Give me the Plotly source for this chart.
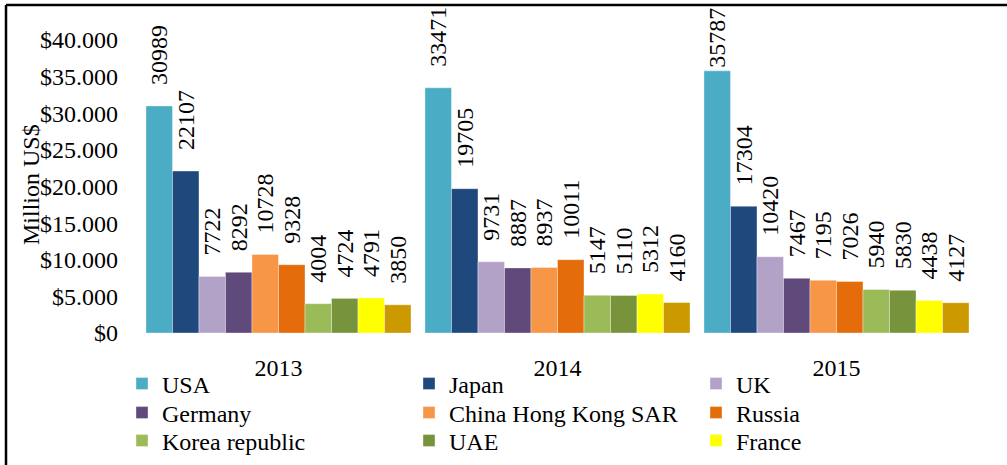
import plotly.graph_objects as go

years = ["2013", "2014", "2015"]
countries = ["USA", "Japan", "UK", "Germany", "China Hong Kong SAR", "Russia",
             "Korea republic", "UAE", "France", "Other"]
values = {
    "USA": [30989, 33471, 35787],
    "Japan": [22107, 19705, 17304],
    "UK": [7722, 9731, 10420],
    "Germany": [8292, 8887, 7467],
    "China Hong Kong SAR": [10728, 8937, 7195],
    "Russia": [9328, 10011, 7026],
    "Korea republic": [4004, 5147, 5940],
    "UAE": [4724, 5110, 5830],
    "France": [4791, 5312, 4438],
    "Other": [3850, 4160, 4127],
}
colors = ["#4BACC6", "#1F497D", "#B3A2C7", "#604A7B", "#F79646", "#E46C0A",
          "#9BBB59", "#77933C", "#FFFF00", "#CC9900"]
y_ticks = [0, 5000, 10000, 15000, 20000, 25000, 30000, 35000, 40000]
y_ticktext = ["$0", "$5.000", "$10.000", "$15.000", "$20.000", "$25.000",
              "$30.000", "$35.000", "$40.000"]
y_title = "Million US$"

FONT = "Liberation Serif"
W, H = 1007, 465
L, R, T, B = 139, 31, 40, 132
NB = "\u00a0"


def label(v):
    # gap between bar top and rotated label; tallest label is kept inside the chart box
    return (NB * 3 if v < 35000 else "") + str(v)


legend_col_x = [122, 409, 696]
legend_row_y = [384, 413, 441]

fig = go.Figure()
layout_legends = {}
for i, c in enumerate(countries):
    show = c != "Other"
    lid = "legend" if i == 0 else f"legend{i + 1}"
    fig.add_trace(go.Bar(
        x=years, y=values[c], name=c,
        marker=dict(color=colors[i], line=dict(color="rgba(255,255,255,0.6)", width=0.6)),
        text=[label(v) for v in values[c]],
        textposition="outside", textangle=-90,
        textfont=dict(family=FONT, size=24, color="black"),
        cliponaxis=False, constraintext="none",
        showlegend=show,
        legend=lid if show else "legend",
    ))
    if show:
        col, row = i % 3, i // 3
        layout_legends[lid] = dict(
            font=dict(family=FONT, size=24, color="black"),
            orientation="v", xref="container", yref="container",
            x=legend_col_x[col] / W, xanchor="left",
            y=1 - legend_row_y[row] / H, yanchor="middle",
            bgcolor="rgba(0,0,0,0)", itemwidth=30,
        )

pw, ph = W - L - R, H - T - B

fig.update_layout(
    width=W, height=H,
    margin=dict(l=L, r=R, t=T, b=B, autoexpand=False),
    paper_bgcolor="white", plot_bgcolor="white",
    barmode="group", bargap=0.05, bargroupgap=0,
    font=dict(family=FONT, size=24, color="black"),
    xaxis=dict(showgrid=False, showline=False, ticks="", ticklabelstandoff=18,
               automargin=False,
               tickfont=dict(family=FONT, size=24, color="black")),
    yaxis=dict(range=[0, 40000], tickvals=y_ticks, ticktext=y_ticktext,
               showgrid=False, zeroline=False, showline=False, ticks="",
               ticklabelstandoff=20, automargin=False,
               tickfont=dict(family=FONT, size=24, color="black")),
    annotations=[
        dict(text=y_title, textangle=-90, xref="paper", yref="paper",
             x=(31 - L) / pw, y=(H - B - 185) / ph, xanchor="center", yanchor="middle",
             showarrow=False, font=dict(family=FONT, size=24, color="black")),
    ],
    shapes=[
        dict(type="line", xref="paper", yref="paper", x0=(6 - L) / pw, x1=1.05,
             y0=(H - B - 5) / ph, y1=(H - B - 5) / ph,
             line=dict(color="black", width=2.5)),
        dict(type="line", xref="paper", yref="paper", x0=(6 - L) / pw, x1=(6 - L) / pw,
             y0=(H - B - 5) / ph, y1=-0.5,
             line=dict(color="black", width=2.5)),
    ],
    **layout_legends,
)

fig.write_html("out.html", config={"displayModeBar": False},
               post_script="document.body.style.margin='0';")
